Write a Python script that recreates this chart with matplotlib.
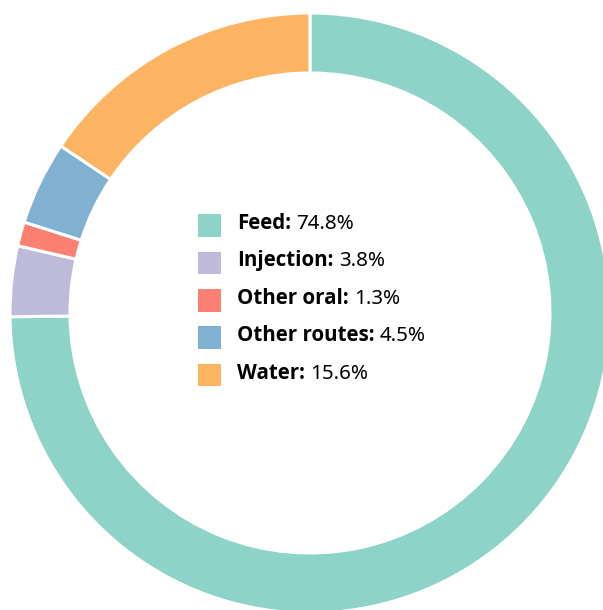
import matplotlib
matplotlib.use("Agg")
import matplotlib.pyplot as plt
from matplotlib import font_manager
from matplotlib.font_manager import FontProperties
from matplotlib.patches import Rectangle

plt.rcParams["font.family"] = ["Noto Sans", "DejaVu Sans"]

# Reparto por vía de administración
categorias = ["Feed", "Injection", "Other oral", "Other routes", "Water"]
porcentajes = [74.8, 3.8, 1.3, 4.5, 15.6]
colores = ["#8dd3c7", "#bebada", "#fb8072", "#80b1d3", "#fdb462"]


# Buscar un archivo en negrita (ancho normal) de la familia; si no hay, probar otras
def fuente_negrita(familias):
    for fam in familias:
        for f in font_manager.fontManager.ttflist:
            peso = f.weight if isinstance(f.weight, int) else 700 if "bold" in str(f.weight).lower() else 400
            if (f.name == fam and peso == 700 and f.style == "normal"
                    and f.stretch in ("normal", 500) and "ondensed" not in f.fname):
                return FontProperties(fname=f.fname)
    return FontProperties(family="DejaVu Sans", weight="bold")


tam = 14.8
fp_negrita = fuente_negrita(["Noto Sans", "Open Sans", "Lato"])
fp_negrita.set_size(tam)
fp_normal = FontProperties(family=["Noto Sans", "DejaVu Sans"], size=tam)

ancho_px, alto_px = 603, 610
fig = plt.figure(figsize=(ancho_px / 100, alto_px / 100), dpi=100)

# Ejes cuadrados de 600 px centrados en (310, 313) desde la esquina superior
ax = fig.add_axes([10 / ancho_px, (alto_px - 613) / alto_px, 600 / ancho_px, 600 / alto_px])
ax.pie(
    porcentajes,
    colors=colores,
    startangle=90,
    counterclock=False,
    radius=1,
    wedgeprops={"width": 0.2, "edgecolor": "white", "linewidth": 2.2},
)
ax.set_xlim(-1, 1)
ax.set_ylim(-1, 1)
ax.set_aspect("equal")
ax.axis("off")

# Leyenda dibujada a mano en el centro del anillo
renderer = fig.canvas.get_renderer()
y0, paso, lado = 225.5, 37.4, 22.7
for i, (cat, val, col) in enumerate(zip(categorias, porcentajes, colores)):
    yc = y0 + i * paso
    fig.patches.append(
        Rectangle(
            (198.3 / ancho_px, (alto_px - yc - lado / 2) / alto_px),
            lado / ancho_px,
            lado / alto_px,
            transform=fig.transFigure,
            facecolor=col,
            edgecolor="none",
        )
    )
    base = (alto_px - yc - 3.5) / alto_px
    etiqueta = fig.text(237 / ancho_px, base, f"{cat}:", fontproperties=fp_negrita,
                        va="baseline", ha="left")
    caja = etiqueta.get_window_extent(renderer)
    fig.text((caja.x1 + 5.5) / ancho_px, base, f"{val}%", fontproperties=fp_normal,
             va="baseline", ha="left")

fig.savefig("out.png", dpi=100)
